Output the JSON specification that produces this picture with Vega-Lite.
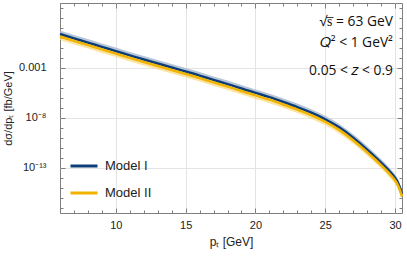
{
  "$schema": "https://vega.github.io/schema/vega-lite/v6.json",
  "width": 342,
  "height": 210,
  "autosize": "none",
  "padding": {"left": 60, "top": 3, "right": 5, "bottom": 45},
  "background": "white",
  "config": {
    "view": {"stroke": "#7f7f7f", "strokeWidth": 1},
    "font": "Liberation Sans",
    "axis": {"domain": false, "labelFont": "Liberation Sans", "titleFont": "Liberation Sans", "labelColor": "#222", "titleColor": "#222", "tickColor": "#7f7f7f", "gridColor": "#e4e4e4", "titleFontWeight": "normal"}
  },
  "datasets": {
    "curves": [
      {"pT": 6, "model": "Model I", "y": 2.512e0, "lo": 1.995e0, "hi": 5.623e0},
      {"pT": 7, "model": "Model I", "y": 8.913e-1, "lo": 7.079e-1, "hi": 1.995e0},
      {"pT": 8, "model": "Model I", "y": 3.548e-1, "lo": 2.818e-1, "hi": 7.943e-1},
      {"pT": 9, "model": "Model I", "y": 1.259e-1, "lo": 1e-1, "hi": 2.818e-1},
      {"pT": 10, "model": "Model I", "y": 5.012e-2, "lo": 3.981e-2, "hi": 1.122e-1},
      {"pT": 11, "model": "Model I", "y": 1.778e-2, "lo": 1.413e-2, "hi": 3.981e-2},
      {"pT": 12, "model": "Model I", "y": 7.079e-3, "lo": 5.623e-3, "hi": 1.585e-2},
      {"pT": 13, "model": "Model I", "y": 2.818e-3, "lo": 2.239e-3, "hi": 6.310e-3},
      {"pT": 14, "model": "Model I", "y": 1.122e-3, "lo": 8.913e-4, "hi": 2.512e-3},
      {"pT": 15, "model": "Model I", "y": 4.467e-4, "lo": 3.548e-4, "hi": 1e-3},
      {"pT": 16, "model": "Model I", "y": 1.778e-4, "lo": 1.413e-4, "hi": 3.981e-4},
      {"pT": 17, "model": "Model I", "y": 6.310e-5, "lo": 5.012e-5, "hi": 1.413e-4},
      {"pT": 18, "model": "Model I", "y": 2.512e-5, "lo": 1.995e-5, "hi": 5.623e-5},
      {"pT": 19, "model": "Model I", "y": 8.913e-6, "lo": 7.079e-6, "hi": 1.995e-5},
      {"pT": 20, "model": "Model I", "y": 3.162e-6, "lo": 2.512e-6, "hi": 7.079e-6},
      {"pT": 21, "model": "Model I", "y": 1.259e-6, "lo": 1e-6, "hi": 2.818e-6},
      {"pT": 22, "model": "Model I", "y": 3.981e-7, "lo": 3.162e-7, "hi": 8.913e-7},
      {"pT": 23, "model": "Model I", "y": 1.259e-7, "lo": 1e-7, "hi": 2.818e-7},
      {"pT": 24, "model": "Model I", "y": 3.548e-8, "lo": 2.818e-8, "hi": 7.943e-8},
      {"pT": 25, "model": "Model I", "y": 7.943e-9, "lo": 6.310e-9, "hi": 1.778e-8},
      {"pT": 26, "model": "Model I", "y": 1.259e-9, "lo": 1e-9, "hi": 2.818e-9},
      {"pT": 27, "model": "Model I", "y": 1.122e-10, "lo": 8.913e-11, "hi": 2.512e-10},
      {"pT": 28, "model": "Model I", "y": 7.079e-12, "lo": 5.623e-12, "hi": 1.585e-11},
      {"pT": 28.5, "model": "Model I", "y": 1.585e-12, "lo": 1.259e-12, "hi": 3.548e-12},
      {"pT": 29, "model": "Model I", "y": 3.548e-13, "lo": 2.818e-13, "hi": 7.943e-13},
      {"pT": 29.5, "model": "Model I", "y": 7.079e-14, "lo": 5.623e-14, "hi": 1.585e-13},
      {"pT": 30, "model": "Model I", "y": 1.122e-14, "lo": 8.913e-15, "hi": 2.512e-14},
      {"pT": 30.25, "model": "Model I", "y": 3.162e-15, "lo": 2.512e-15, "hi": 7.079e-15},
      {"pT": 30.5, "model": "Model I", "y": 2.512e-16, "lo": 1.995e-16, "hi": 5.623e-16},
      {"pT": 6, "model": "Model II", "y": 1.413e0, "lo": 6.310e-1, "hi": 1.778e0},
      {"pT": 7, "model": "Model II", "y": 5.012e-1, "lo": 2.239e-1, "hi": 6.310e-1},
      {"pT": 8, "model": "Model II", "y": 1.995e-1, "lo": 8.913e-2, "hi": 2.512e-1},
      {"pT": 9, "model": "Model II", "y": 7.079e-2, "lo": 3.162e-2, "hi": 8.913e-2},
      {"pT": 10, "model": "Model II", "y": 2.818e-2, "lo": 1.259e-2, "hi": 3.548e-2},
      {"pT": 11, "model": "Model II", "y": 1e-2, "lo": 4.467e-3, "hi": 1.259e-2},
      {"pT": 12, "model": "Model II", "y": 3.981e-3, "lo": 1.778e-3, "hi": 5.012e-3},
      {"pT": 13, "model": "Model II", "y": 1.585e-3, "lo": 7.079e-4, "hi": 1.995e-3},
      {"pT": 14, "model": "Model II", "y": 6.310e-4, "lo": 2.818e-4, "hi": 7.943e-4},
      {"pT": 15, "model": "Model II", "y": 2.512e-4, "lo": 1.122e-4, "hi": 3.162e-4},
      {"pT": 16, "model": "Model II", "y": 1e-4, "lo": 4.467e-5, "hi": 1.259e-4},
      {"pT": 17, "model": "Model II", "y": 3.548e-5, "lo": 1.585e-5, "hi": 4.467e-5},
      {"pT": 18, "model": "Model II", "y": 1.413e-5, "lo": 6.310e-6, "hi": 1.778e-5},
      {"pT": 19, "model": "Model II", "y": 5.012e-6, "lo": 2.239e-6, "hi": 6.310e-6},
      {"pT": 20, "model": "Model II", "y": 1.778e-6, "lo": 7.943e-7, "hi": 2.239e-6},
      {"pT": 21, "model": "Model II", "y": 7.079e-7, "lo": 3.162e-7, "hi": 8.913e-7},
      {"pT": 22, "model": "Model II", "y": 2.239e-7, "lo": 1e-7, "hi": 2.818e-7},
      {"pT": 23, "model": "Model II", "y": 7.079e-8, "lo": 3.162e-8, "hi": 8.913e-8},
      {"pT": 24, "model": "Model II", "y": 1.995e-8, "lo": 8.913e-9, "hi": 2.512e-8},
      {"pT": 25, "model": "Model II", "y": 4.467e-9, "lo": 1.995e-9, "hi": 5.623e-9},
      {"pT": 26, "model": "Model II", "y": 7.079e-10, "lo": 3.162e-10, "hi": 8.913e-10},
      {"pT": 27, "model": "Model II", "y": 6.310e-11, "lo": 2.818e-11, "hi": 7.943e-11},
      {"pT": 28, "model": "Model II", "y": 3.981e-12, "lo": 1.778e-12, "hi": 5.012e-12},
      {"pT": 28.5, "model": "Model II", "y": 8.913e-13, "lo": 3.981e-13, "hi": 1.122e-12},
      {"pT": 29, "model": "Model II", "y": 1.995e-13, "lo": 8.913e-14, "hi": 2.512e-13},
      {"pT": 29.5, "model": "Model II", "y": 3.981e-14, "lo": 1.778e-14, "hi": 5.012e-14},
      {"pT": 30, "model": "Model II", "y": 6.310e-15, "lo": 2.818e-15, "hi": 7.943e-15},
      {"pT": 30.25, "model": "Model II", "y": 1.778e-15, "lo": 7.943e-16, "hi": 2.239e-15},
      {"pT": 30.5, "model": "Model II", "y": 1.413e-16, "lo": 6.310e-17, "hi": 1.778e-16}
    ],
    "notes": [
      {"text": "√s̅ = 63 GeV", "pT": 29.85, "v": 40},
      {"text": "𝑄² < 1 GeV²", "pT": 29.85, "v": 0.32},
      {"text": "0.05 < 𝑧 < 0.9", "pT": 29.85, "v": 5e-4}
    ]
  },
  "resolve": {"axis": {"x": "independent", "y": "independent"}},
  "layer": [
    {
      "data": {"name": "curves"},
      "transform": [{"filter": "datum.model == 'Model I'"}],
      "mark": {"type": "area", "interpolate": "basis", "color": "#a9bcd1", "opacity": 0.85},
      "encoding": {
        "x": {"field": "pT", "type": "quantitative", "scale": {"domain": [6, 30.5], "nice": false, "zero": false}, "axis": null},
        "y": {"field": "lo", "type": "quantitative", "scale": {"type": "log", "domain": [3.162e-18, 3162], "nice": false}, "axis": null},
        "y2": {"field": "hi"}
      }
    },
    {
      "data": {"name": "curves"},
      "transform": [{"filter": "datum.model == 'Model II'"}],
      "mark": {"type": "area", "interpolate": "basis", "color": "#f9d87a", "opacity": 0.7},
      "encoding": {
        "x": {"field": "pT", "type": "quantitative", "scale": {"domain": [6, 30.5], "nice": false, "zero": false}, "axis": null},
        "y": {"field": "lo", "type": "quantitative", "scale": {"type": "log", "domain": [3.162e-18, 3162], "nice": false}, "axis": null},
        "y2": {"field": "hi"}
      }
    },
    {
      "data": {"name": "curves"},
      "mark": {"type": "line", "interpolate": "basis", "strokeWidth": 2.5},
      "encoding": {
        "x": {"field": "pT", "type": "quantitative", "scale": {"domain": [6, 30.5], "nice": false, "zero": false},
          "axis": {"orient": "bottom", "values": [10, 15, 20, 25, 30], "ticks": false, "labelPadding": 6, "labelFontSize": 11, "grid": true, "title": "pₜ [GeV]", "titleFontSize": 12, "titlePadding": 6}},
        "y": {"field": "y", "type": "quantitative", "scale": {"type": "log", "domain": [3.162e-18, 3162], "nice": false},
          "axis": {"orient": "left", "values": [0.001, 1e-8, 1e-13], "ticks": false, "labelPadding": 14, "labelFontSize": 11, "grid": true,
            "labelExpr": "datum.value > 1e-5 ? '0.001' : (datum.value > 1e-10 ? '10⁻⁸' : '10⁻¹³')",
            "title": "dσ/dpₜ [fb/GeV]", "titleFontSize": 11, "titlePadding": 5}},
        "color": {"field": "model", "type": "nominal",
          "scale": {"domain": ["Model I", "Model II"], "range": ["#0d3d78", "#f1b300"]},
          "legend": {"orient": "none", "legendX": 9, "legendY": 148, "title": null, "symbolType": "stroke", "symbolSize": 729, "symbolStrokeWidth": 3, "labelFontSize": 13, "labelFont": "Liberation Sans", "labelColor": "#222", "labelOffset": 6, "rowPadding": 5, "padding": 0}}
      }
    },
    {
      "data": {"name": "notes"},
      "mark": {"type": "text", "align": "right", "baseline": "middle", "font": "Open Sans", "fontSize": 13.8, "color": "#111"},
      "encoding": {
        "x": {"field": "pT", "type": "quantitative", "scale": {"domain": [6, 30.5], "nice": false, "zero": false}, "axis": null},
        "y": {"field": "v", "type": "quantitative", "scale": {"type": "log", "domain": [3.162e-18, 3162], "nice": false}, "axis": null},
        "text": {"field": "text"}
      }
    },
    {
      "data": {"name": "curves"},
      "mark": {"type": "point", "opacity": 0},
      "encoding": {
        "x": {"field": "pT", "type": "quantitative", "scale": {"domain": [6, 30.5], "nice": false, "zero": false},
          "axis": {"orient": "bottom", "values": [10, 15, 20, 25, 30], "tickSize": -5, "labels": false, "grid": false, "title": null}},
        "y": {"field": "y", "type": "quantitative", "scale": {"type": "log", "domain": [3.162e-18, 3162], "nice": false},
          "axis": {"orient": "left", "values": [0.001, 1e-8, 1e-13], "tickSize": -5, "labels": false, "grid": false, "title": null}}
      }
    },
    {
      "data": {"name": "curves"},
      "mark": {"type": "point", "opacity": 0},
      "encoding": {
        "x": {"field": "pT", "type": "quantitative", "scale": {"domain": [6, 30.5], "nice": false, "zero": false},
          "axis": {"orient": "bottom", "values": [6, 7, 8, 9, 11, 12, 13, 14, 16, 17, 18, 19, 21, 22, 23, 24, 26, 27, 28, 29], "tickSize": -3, "labels": false, "grid": false, "title": null}},
        "y": {"field": "y", "type": "quantitative", "scale": {"type": "log", "domain": [3.162e-18, 3162], "nice": false},
          "axis": {"orient": "left", "values": [1e-17, 1e-16, 1e-15, 1e-14, 1e-12, 1e-11, 1e-10, 1e-9, 1e-7, 1e-6, 1e-5, 1e-4, 1e-2, 1e-1, 1, 10, 100, 1000], "tickSize": -3, "labels": false, "grid": false, "title": null}}
      }
    },
    {
      "data": {"name": "curves"},
      "mark": {"type": "point", "opacity": 0},
      "encoding": {
        "x": {"field": "pT", "type": "quantitative", "scale": {"domain": [6, 30.5], "nice": false, "zero": false},
          "axis": {"orient": "top", "values": [10, 15, 20, 25, 30], "tickSize": -5, "labels": false, "grid": false, "title": null}},
        "y": {"field": "y", "type": "quantitative", "scale": {"type": "log", "domain": [3.162e-18, 3162], "nice": false},
          "axis": {"orient": "right", "values": [0.001, 1e-8, 1e-13], "tickSize": -5, "labels": false, "grid": false, "title": null}}
      }
    },
    {
      "data": {"name": "curves"},
      "mark": {"type": "point", "opacity": 0},
      "encoding": {
        "x": {"field": "pT", "type": "quantitative", "scale": {"domain": [6, 30.5], "nice": false, "zero": false},
          "axis": {"orient": "top", "values": [6, 7, 8, 9, 11, 12, 13, 14, 16, 17, 18, 19, 21, 22, 23, 24, 26, 27, 28, 29], "tickSize": -3, "labels": false, "grid": false, "title": null}},
        "y": {"field": "y", "type": "quantitative", "scale": {"type": "log", "domain": [3.162e-18, 3162], "nice": false},
          "axis": {"orient": "right", "values": [1e-17, 1e-16, 1e-15, 1e-14, 1e-12, 1e-11, 1e-10, 1e-9, 1e-7, 1e-6, 1e-5, 1e-4, 1e-2, 1e-1, 1, 10, 100, 1000], "tickSize": -3, "labels": false, "grid": false, "title": null}}
      }
    }
  ]
}
